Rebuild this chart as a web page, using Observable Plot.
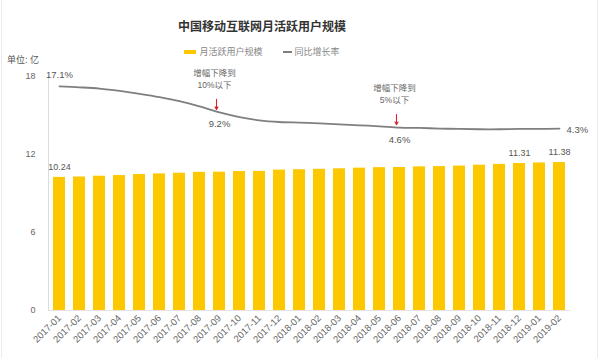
<!DOCTYPE html>
<html>
<head>
<meta charset="utf-8">
<script src="https://cdn.jsdelivr.net/npm/d3@7"></script>
<script src="https://cdn.jsdelivr.net/npm/@observablehq/plot@0.6"></script>
<style>
  body { margin: 0; background: #fff; font-family: "Liberation Sans", "Noto Sans CJK SC", sans-serif; }
  #wrap { position: relative; width: 600px; height: 358px; overflow: hidden; background: #fff; }
  #edgeL { position: absolute; left: 1px; top: 0; width: 1px; height: 358px; background: #ececec; }
  #edgeR { position: absolute; left: 597px; top: 0; width: 1px; height: 358px; background: #ececec; }
  #title { position: absolute; top: 19px; left: 0; width: 524px; text-align: center; font-size: 12px; font-weight: bold; color: #333; line-height: 16px; }
  #legend { position: absolute; top: 46px; left: 0; width: 524px; display: flex; justify-content: center; align-items: center; font-size: 9px; color: #888; line-height: 12px; }
  .sw { display: inline-block; margin-right: 3px; }
  .item { display: flex; align-items: center; margin: 0 10px; }
  #unit { position: absolute; left: 7px; top: 54px; font-size: 9px; color: #555; line-height: 12px; }
  #chart { position: absolute; left: 0; top: 56px; }
</style>
</head>
<body>
<div id="wrap">
  <div id="edgeL"></div><div id="edgeR"></div>
  <div id="title"></div>
  <div id="legend"></div>
  <div id="unit"></div>
  <div id="chart"></div>
</div>
<script>
const titleText = "中国移动互联网月活跃用户规模";
const seriesNames = ["月活跃用户规模", "同比增长率"];
const unitText = "单位: 亿";

const months = ["2017-01","2017-02","2017-03","2017-04","2017-05","2017-06","2017-07","2017-08","2017-09","2017-10","2017-11","2017-12",
                "2018-01","2018-02","2018-03","2018-04","2018-05","2018-06","2018-07","2018-08","2018-09","2018-10","2018-11","2018-12",
                "2019-01","2019-02"];
const users = [10.24, 10.27, 10.33, 10.38, 10.46, 10.51, 10.56, 10.63, 10.64, 10.69, 10.70, 10.80,
               10.83, 10.86, 10.90, 10.95, 10.99, 11.00, 11.05, 11.07, 11.11, 11.18, 11.24, 11.31,
               11.35, 11.38];
const growth = [17.1, 16.8, 16.4, 15.7, 14.8, 13.8, 12.6, 11.0, 9.2, 7.8, 6.8, 6.3,
                6.1, 5.9, 5.6, 5.3, 5.0, 4.6, 4.5, 4.3, 4.2, 4.1, 4.1, 4.2,
                4.2, 4.3];
const yTicks = [0, 6, 12, 18];
const barLabelMonths = ["2017-01", "2018-12", "2019-02"];
const rateLabelAbove = ["2017-01"];
const rateLabelBelow = ["2017-09", "2018-06"];
const rateLabelRight = ["2019-02"];
const annoMonths = ["2017-09", "2018-06"];
const annoLine1 = ["增幅下降到", "增幅下降到"];
const annoLine2 = ["10%以下", "5%以下"];
// secondary (rate) axis mapped onto the left axis units
const rateOffset = 12.9, rateScale = 0.254;

const barColor = "#FDC800", lineColor = "#7f7f7f", arrowColor = "#d8232a";

document.getElementById("title").textContent = titleText;
document.getElementById("unit").textContent = unitText;
document.getElementById("legend").innerHTML =
  `<span class="item"><span class="sw" style="width:12px;height:4px;background:${barColor}"></span>${seriesNames[0]}</span>` +
  `<span class="item"><span class="sw" style="width:9px;height:1.5px;background:${lineColor}"></span>${seriesNames[1]}</span>`;

const data = months.map((m, i) => ({month: m, users: users[i], growth: growth[i], ry: rateOffset + rateScale * growth[i]}));
const anno = annoMonths.map((m, i) => ({month: m, l1: annoLine1[i], l2: annoLine2[i], ry: data.find(d => d.month === m).ry}));
const pick = list => data.filter(d => list.includes(d.month));

const chart = Plot.plot({
  width: 600, height: 302,
  marginTop: 20, marginBottom: 48, marginLeft: 48, marginRight: 30,
  style: {fontFamily: '"Liberation Sans","Noto Sans CJK SC",sans-serif', fontSize: "9px", background: "transparent", overflow: "visible"},
  x: {type: "band", domain: months, paddingInner: 0.38, paddingOuter: 0.15, label: null},
  y: {domain: [0, 18], label: null},
  marks: [
    Plot.barY(data, {x: "month", y: "users", fill: barColor}),
    Plot.ruleY([0], {stroke: "#e2e2e2"}),
    Plot.frame({anchor: "left", stroke: "#dcdcdc"}),
    Plot.axisY({ticks: yTicks, tickSize: 0, tickPadding: 13, fontSize: 9, color: "#666", label: null}),
    Plot.axisX({tickRotate: -45, tickSize: 0, tickPadding: 6, fontSize: 9.5, color: "#666", label: null}),
    Plot.line(data, {x: "month", y: "ry", stroke: lineColor, strokeWidth: 1.8, curve: "catmull-rom"}),
    Plot.text(pick(barLabelMonths), {x: "month", y: "users", text: d => d.users.toFixed(2), dy: -10, fill: "#555", fontSize: 9}),
    Plot.text(pick(rateLabelAbove), {x: "month", y: "ry", text: d => d.growth.toFixed(1) + "%", dy: -11, fill: "#555", fontSize: 9.5}),
    Plot.text(pick(rateLabelBelow), {x: "month", y: "ry", text: d => d.growth.toFixed(1) + "%", dy: 12, fill: "#555", fontSize: 9.5}),
    Plot.text(pick(rateLabelRight), {x: "month", y: "ry", text: d => d.growth.toFixed(1) + "%", dx: 7, dy: 1, textAnchor: "start", fill: "#555", fontSize: 9.5}),
    Plot.text(anno, {x: "month", y: "ry", text: "l1", dx: -5, dy: -39, fill: "#666", fontSize: 8.5}),
    Plot.text(anno, {x: "month", y: "ry", text: "l2", dx: -5, dy: -27, fill: "#666", fontSize: 8.5}),
    Plot.arrow(anno, {x: "month", y1: d => d.ry + 1.0, y2: d => d.ry + 0.23, dx: -3, stroke: arrowColor, strokeWidth: 1.1, headLength: 4})
  ]
});
document.getElementById("chart").appendChild(chart);
</script>
</body>
</html>
